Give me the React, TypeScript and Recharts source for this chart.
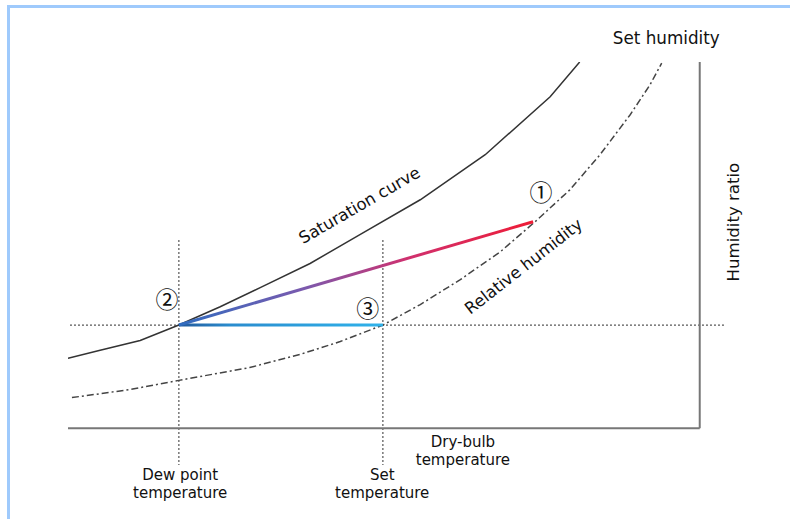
import React from "react";
import {
  ComposedChart,
  Line,
  XAxis,
  YAxis,
  ReferenceLine,
  ReferenceDot,
} from "recharts";

// saturation curve (solid)
const satX = [0, 4.9, 11.0, 16.9, 23.2, 29.3, 36.9, 44.5, 53.7, 63.6, 73.5, 78.0];
const satY = [19.1, 21.3, 24.0, 28.2, 33.2, 38.4, 45.0, 52.9, 62.4, 74.7, 90.5, 100];

// relative humidity curve (dash-dot)
const rhX = [0.6, 9.5, 16.9, 27.7, 35.4, 41.5, 48.0, 53.7, 59.8, 65.9, 71.2, 76.5, 81.1, 85.7, 88.7, 90.5];
const rhY = [8.4, 10.6, 13.1, 16.6, 20.2, 23.7, 28.2, 33.8, 40.6, 48.2, 56.4, 65.1, 74.7, 85.6, 93.7, 99.7];

// state points
const dewPoint = { x: 16.9, y: 28.2 }; // (2)
const setPoint = { x: 48.0, y: 28.2 }; // (3)
const startPoint = { x: 70.9, y: 56.4 }; // (1)

const axisRight = 96.3;
const guideTop = 51.4;
const guideBottom = -10;

const toRows = (xs: number[], ys: number[]) => xs.map((x, i) => ({ x, y: ys[i] }));
const satData = toRows(satX, satY);
const rhData = toRows(rhX, rhY);

const W = 790;
const H = 519;
const margin = { top: 62, right: 66, bottom: 54, left: 68 };

const FONT = "'DejaVu Sans', 'Noto Sans', sans-serif";
const CIRCLE_FONT = "'Noto Sans CJK JP', 'DejaVu Sans', sans-serif";

type Note = { x: number; y: number; lines: string[]; angle?: number; size?: number; circled?: boolean };

const notes: Note[] = [
  { x: 72.1, y: 64.8, lines: ["①"], size: 23, circled: true },
  { x: 15.1, y: 35.6, lines: ["②"], size: 23, circled: true },
  { x: 45.7, y: 33.1, lines: ["③"], size: 23, circled: true },
  { x: 44.4, y: 61.0, lines: ["Saturation curve"], angle: -30, size: 16.4 },
  { x: 69.4, y: 44.3, lines: ["Relative humidity"], angle: -38, size: 16.4 },
  { x: 91.2, y: 106.6, lines: ["Set humidity"], size: 16.8 },
  { x: 101.4, y: 56.3, lines: ["Humidity ratio"], angle: -90, size: 16.6 },
  { x: 60.2, y: -6.3, lines: ["Dry-bulb", "temperature"] },
  { x: 17.1, y: -15.3, lines: ["Dew point", "temperature"] },
  { x: 47.9, y: -15.3, lines: ["Set", "temperature"] },
];

const noteLabel = (n: Note) => (props: any) => {
  const vb = props.viewBox || {};
  const cx = (vb.x ?? 0) + (vb.width ?? 0) / 2;
  const cy = (vb.y ?? 0) + (vb.height ?? 0) / 2;
  const lh = 18;
  const first = -((n.lines.length - 1) * lh) / 2;
  return (
    <text
      x={cx}
      y={cy}
      textAnchor="middle"
      dominantBaseline="central"
      fontFamily={n.circled ? CIRCLE_FONT : FONT}
      fontSize={n.size ?? 15}
      fill="#111"
      transform={n.angle ? `rotate(${n.angle} ${cx} ${cy})` : undefined}
    >
      {n.lines.map((l, i) => (
        <tspan key={i} x={cx} dy={i === 0 ? first : lh}>
          {l}
        </tspan>
      ))}
    </text>
  );
};

const guide = { stroke: "#555", strokeWidth: 1.2, strokeDasharray: "2 2" };
const axis = { stroke: "#777", strokeWidth: 2 };

export default function App() {
  // horizontal blue line has zero-height bbox, so its gradient uses user space
  const pxX = (v: number) => margin.left + (v / 100) * (W - margin.left - margin.right);
  return (
    <div style={{ position: "absolute", left: 0, top: 0, width: W, height: H, background: "#fff" }}>
      <div style={{ position: "absolute", left: 7, top: 5, right: 0, height: 3, background: "#9fcafc" }} />
      <div style={{ position: "absolute", left: 7, top: 5, bottom: 0, width: 3, background: "#9fcafc" }} />
      <div style={{ position: "absolute", left: 0, top: 0 }}>
        <ComposedChart width={W} height={H} margin={margin}>
          <defs>
            <linearGradient id="procGrad" x1="0" y1="0" x2="1" y2="0">
              <stop offset="0%" stopColor="#2f6cc0" />
              <stop offset="35%" stopColor="#7a5aae" />
              <stop offset="65%" stopColor="#d0306e" />
              <stop offset="100%" stopColor="#ee1c36" />
            </linearGradient>
            <linearGradient
              id="coolGrad"
              gradientUnits="userSpaceOnUse"
              x1={pxX(dewPoint.x)}
              y1={0}
              x2={pxX(setPoint.x)}
              y2={0}
            >
              <stop offset="0%" stopColor="#22589a" />
              <stop offset="25%" stopColor="#2a8cce" />
              <stop offset="100%" stopColor="#2fb2ea" />
            </linearGradient>
          </defs>
          <XAxis type="number" dataKey="x" domain={[0, 100]} hide allowDataOverflow />
          <YAxis type="number" dataKey="y" domain={[-10, 100]} hide allowDataOverflow />

          <ReferenceLine segment={[{ x: 0.3, y: dewPoint.y }, { x: 100, y: dewPoint.y }]} {...guide} />
          <ReferenceLine segment={[{ x: dewPoint.x, y: guideTop }, { x: dewPoint.x, y: guideBottom }]} {...guide} />
          <ReferenceLine segment={[{ x: setPoint.x, y: guideTop }, { x: setPoint.x, y: guideBottom }]} {...guide} />

          <ReferenceLine segment={[{ x: 0, y: 0 }, { x: axisRight, y: 0 }]} {...axis} />
          <ReferenceLine segment={[{ x: axisRight, y: 0 }, { x: axisRight, y: 100 }]} {...axis} />

          <Line data={satData} dataKey="y" type="linear" stroke="#333" strokeWidth={1.5} dot={false} activeDot={false} isAnimationActive={false} />
          <Line data={rhData} dataKey="y" type="linear" stroke="#444" strokeWidth={1.5} strokeDasharray="7 3 2 3" dot={false} activeDot={false} isAnimationActive={false} />
          <Line data={[dewPoint, setPoint]} dataKey="y" type="linear" stroke="url(#coolGrad)" strokeWidth={3} dot={false} activeDot={false} isAnimationActive={false} />
          <Line data={[dewPoint, startPoint]} dataKey="y" type="linear" stroke="url(#procGrad)" strokeWidth={3} dot={false} activeDot={false} isAnimationActive={false} />

          {notes.map((n, i) => (
            <ReferenceDot key={i} x={n.x} y={n.y} r={0} ifOverflow="visible" fill="none" stroke="none" label={noteLabel(n)} />
          ))}
        </ComposedChart>
      </div>
    </div>
  );
}
